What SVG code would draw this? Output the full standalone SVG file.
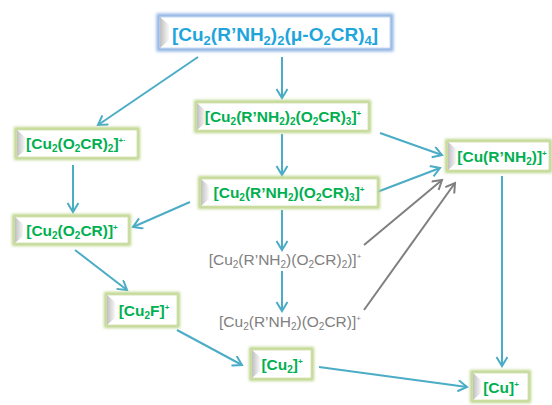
<svg xmlns="http://www.w3.org/2000/svg" width="552" height="405" viewBox="0 0 552 405">
<style>
.g{fill:#00b050;font-family:"Liberation Sans",Arial,sans-serif;font-weight:bold;font-size:15.5px;text-anchor:middle}
.b{fill:#1ea5dc;font-family:"Liberation Sans",Arial,sans-serif;font-weight:bold;font-size:19px;text-anchor:middle}
.gr{fill:#808080;font-family:"Liberation Sans",Arial,sans-serif;font-size:15.5px;text-anchor:middle}
.s{font-size:10px}
.bs{font-size:13px}
.p{font-size:8px}
.box{fill:#fff;stroke:#d8e4bc;stroke-width:1}
.glow{fill:none;stroke:#bdd58a;stroke-width:6;filter:url(#blur)}
.glowb{fill:none;stroke:#8fb4e3;stroke-width:5;filter:url(#blur)}
.bev{fill:url(#bev)}
.ca{fill:none;stroke:#4bacc6;stroke-width:2;marker-end:url(#ab)}
.cg{fill:none;stroke:#7f7f7f;stroke-width:2;marker-end:url(#ag)}
</style>
<defs>
<filter id="blur" x="-20%" y="-50%" width="140%" height="200%"><feGaussianBlur stdDeviation="1.6"/></filter>
<linearGradient id="bev" x1="0" y1="0" x2="1" y2="0"><stop offset="0" stop-color="#bfbfbf"/><stop offset="1" stop-color="#f7f7f7"/></linearGradient>
<marker id="ab" markerWidth="14" markerHeight="14" refX="10" refY="6" orient="auto" markerUnits="userSpaceOnUse"><path d="M1,0.5 L10,6 L1,11.5" fill="none" stroke="#4bacc6" stroke-width="2"/></marker>
<marker id="ag" markerWidth="14" markerHeight="14" refX="10" refY="6" orient="auto" markerUnits="userSpaceOnUse"><path d="M1,0.5 L10,6 L1,11.5" fill="none" stroke="#7f7f7f" stroke-width="2"/></marker>
</defs>
<g id="connectors">
<line class="ca" x1="198" y1="57" x2="98" y2="125"/>
<line class="ca" x1="282" y1="57" x2="282" y2="98"/>
<line class="ca" x1="282" y1="134" x2="282" y2="175"/>
<line class="ca" x1="380" y1="133" x2="442" y2="155"/>
<line class="ca" x1="377" y1="192" x2="440" y2="168"/>
<line class="ca" x1="190" y1="202" x2="133" y2="227"/>
<line class="ca" x1="73" y1="165" x2="73" y2="212"/>
<line class="ca" x1="75" y1="250" x2="127" y2="290"/>
<line class="ca" x1="282" y1="210" x2="282" y2="250"/>
<line class="ca" x1="282" y1="271" x2="282" y2="311"/>
<line class="cg" x1="364" y1="245" x2="442" y2="180"/>
<line class="cg" x1="364" y1="310" x2="455" y2="183"/>
<line class="ca" x1="177" y1="330" x2="242" y2="365"/>
<line class="ca" x1="319" y1="367" x2="467" y2="387"/>
<line class="ca" x1="502" y1="176" x2="502" y2="366"/>
</g>
<g id="n-top">
<rect class="glowb" x="159" y="16" width="232" height="33"/>
<rect x="160" y="17" width="230" height="31" fill="#fff" stroke="#c6d9f1"/>
<polygon class="bev" points="160,17 169,25 169,40 160,48"/>
<text class="b" x="275" y="41">[Cu<tspan class="bs" dy="4">2</tspan><tspan dy="-4">(R’NH</tspan><tspan class="bs" dy="4">2</tspan><tspan dy="-4">)</tspan><tspan class="bs" dy="4">2</tspan><tspan dy="-4">(μ-O</tspan><tspan class="bs" dy="4">2</tspan><tspan dy="-4">CR)</tspan><tspan class="bs" dy="4">4</tspan><tspan dy="-4">]</tspan></text>
</g>
<g id="n-b2">
<rect class="glow" x="197" y="103" width="171" height="27"/>
<rect class="box" x="197" y="103" width="171" height="27"/>
<polygon class="bev" points="197,103 205,110 205,123 197,130"/>
<text class="g" x="283" y="122">[Cu<tspan class="s" dy="3">2</tspan><tspan dy="-3">(R’NH</tspan><tspan class="s" dy="3">2</tspan><tspan dy="-3">)</tspan><tspan class="s" dy="3">2</tspan><tspan dy="-3">(O</tspan><tspan class="s" dy="3">2</tspan><tspan dy="-3">CR)</tspan><tspan class="s" dy="3">3</tspan><tspan dy="-3">]</tspan><tspan class="p" dy="-6">+</tspan></text>
</g>
<g id="n-b3">
<rect class="glow" x="201" y="179" width="176" height="27"/>
<rect class="box" x="201" y="179" width="176" height="27"/>
<polygon class="bev" points="201,179 209,186 209,199 201,206"/>
<text class="g" x="289" y="198">[Cu<tspan class="s" dy="3">2</tspan><tspan dy="-3">(R’NH</tspan><tspan class="s" dy="3">2</tspan><tspan dy="-3">)(O</tspan><tspan class="s" dy="3">2</tspan><tspan dy="-3">CR)</tspan><tspan class="s" dy="3">3</tspan><tspan dy="-3">]</tspan><tspan class="p" dy="-6">+</tspan></text>
</g>
<g id="n-l1">
<rect class="glow" x="17" y="130" width="120" height="27"/>
<rect class="box" x="17" y="130" width="120" height="27"/>
<polygon class="bev" points="17,130 25,137 25,150 17,157"/>
<text class="g" x="76" y="149">[Cu<tspan class="s" dy="3">2</tspan><tspan dy="-3">(O</tspan><tspan class="s" dy="3">2</tspan><tspan dy="-3">CR)</tspan><tspan class="s" dy="3">2</tspan><tspan dy="-3">]</tspan><tspan class="p" dy="-6">+·</tspan></text>
</g>
<g id="n-l2">
<rect class="glow" x="15" y="217" width="113" height="26"/>
<rect class="box" x="15" y="217" width="113" height="26"/>
<polygon class="bev" points="15,217 23,224 23,236 15,243"/>
<text class="g" x="72" y="236">[Cu<tspan class="s" dy="3">2</tspan><tspan dy="-3">(O</tspan><tspan class="s" dy="3">2</tspan><tspan dy="-3">CR)]</tspan><tspan class="p" dy="-6">+</tspan></text>
</g>
<g id="n-cur">
<rect class="glow" x="448" y="142" width="101" height="28"/>
<rect class="box" x="448" y="142" width="101" height="28"/>
<polygon class="bev" points="448,142 456,149 456,163 448,170"/>
<text class="g" x="502" y="162">[Cu(R’NH<tspan class="s" dy="3">2</tspan><tspan dy="-3">)]</tspan><tspan class="p" dy="-6">+</tspan></text>
</g>
<g id="n-g1">
<text class="gr" x="285" y="265">[Cu<tspan class="s" dy="3">2</tspan><tspan dy="-3">(R’NH</tspan><tspan class="s" dy="3">2</tspan><tspan dy="-3">)(O</tspan><tspan class="s" dy="3">2</tspan><tspan dy="-3">CR)</tspan><tspan class="s" dy="3">2</tspan><tspan dy="-3">)]</tspan><tspan class="p" dy="-6">+</tspan></text>
</g>
<g id="n-g2">
<text class="gr" x="290" y="327">[Cu<tspan class="s" dy="3">2</tspan><tspan dy="-3">(R’NH</tspan><tspan class="s" dy="3">2</tspan><tspan dy="-3">)(O</tspan><tspan class="s" dy="3">2</tspan><tspan dy="-3">CR)]</tspan><tspan class="p" dy="-6">+</tspan></text>
</g>
<g id="n-cu2f">
<rect class="glow" x="107" y="295" width="70" height="30"/>
<rect class="box" x="107" y="295" width="70" height="30"/>
<polygon class="bev" points="107,295 115,302 115,318 107,325"/>
<text class="g" x="144" y="316">[Cu<tspan class="s" dy="3">2</tspan><tspan dy="-3">F]</tspan><tspan class="p" dy="-6">+</tspan></text>
</g>
<g id="n-cu2">
<rect class="glow" x="252" y="350" width="59" height="28"/>
<rect class="box" x="252" y="350" width="59" height="28"/>
<polygon class="bev" points="252,350 260,357 260,371 252,378"/>
<text class="g" x="282" y="370">[Cu<tspan class="s" dy="3">2</tspan><tspan dy="-3">]</tspan><tspan class="p" dy="-6">+</tspan></text>
</g>
<g id="n-cu">
<rect class="glow" x="473" y="373" width="55" height="27"/>
<rect class="box" x="473" y="373" width="55" height="27"/>
<polygon class="bev" points="473,373 481,380 481,393 473,400"/>
<text class="g" x="501" y="393">[Cu]<tspan class="p" dy="-6">+</tspan></text>
</g>
</svg>
